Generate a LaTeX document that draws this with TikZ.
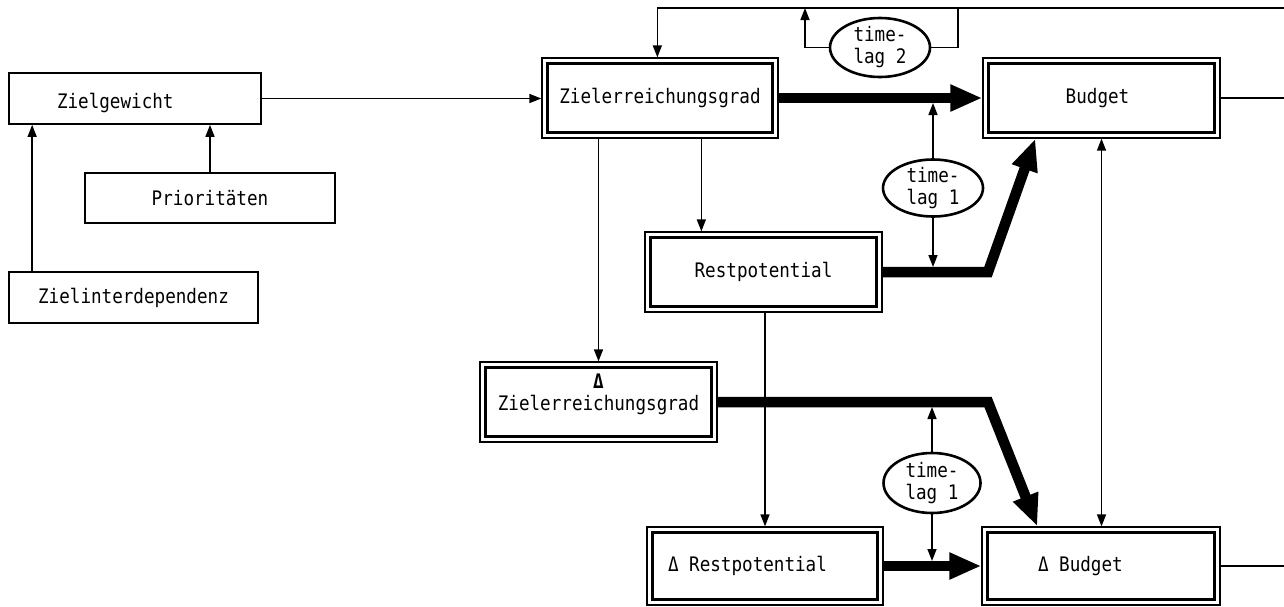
\documentclass[tikz,border=0pt]{standalone}
\usepackage{fontspec}
\newfontfamily\diagfont[FakeStretch=0.88]{DejaVu Sans Mono}
\usetikzlibrary{arrows.meta,shapes.geometric}

\begin{document}
\begin{tikzpicture}[x=1pt,y=-1pt,
  font=\diagfont\fontsize{20}{22}\selectfont,
  sbox/.style={draw,line width=1.7pt,inner sep=0pt,minimum height=51pt},
  dbox/.style={draw,line width=1.3pt,inner sep=0pt,minimum width=237pt,minimum height=80pt},
  lag/.style={draw,ellipse,line width=2.6pt,inner sep=-2pt,minimum width=100pt,minimum height=58pt,align=center},
  thinarrow/.style={line width=1.5pt,-{Triangle[length=12pt,width=9pt]}},
  twoarrow/.style={line width=1.5pt,{Triangle[length=12pt,width=9pt]}-{Triangle[length=12pt,width=9pt]}},
  fat/.style={line width=10.5pt,-{Triangle[length=32pt,width=25pt]}},
  wire/.style={line width=1.5pt}]
\useasboundingbox (0,0) rectangle (1284,606);

% single boxes
\node[sbox,minimum width=252pt] (zg) at (135,98.5) {\makebox[252pt][l]{\hspace{48pt}\raisebox{-4pt}[\height][\depth]{Zielgewicht}}};
\node[sbox,minimum width=250pt,minimum height=50pt] (pr) at (210,198) {Prioritäten};
\node[sbox,minimum width=249pt] (zi) at (133.5,297.5) {Zielinterdependenz};

% double boxes
\node[dbox,minimum width=236pt] (zr) at (660,98) {Zielerreichungsgrad};
\node[dbox] (bu) at (1101.5,98) {\hspace{-8pt}Budget};
\node[dbox] (rp) at (763.5,272) {Restpotential};
\node[dbox] (dz) at (598.5,402) {\raisebox{7pt}[\height][\depth]{\begin{tabular}{@{}c@{}}{\bfseries Δ}\\Zielerreichungsgrad\end{tabular}}};
\node[dbox,minimum width=236pt,minimum height=78pt] (drp) at (765,566) {\makebox[236pt][l]{\hspace{21pt}Δ Restpotential}};
\node[dbox,minimum width=238pt,minimum height=78pt] (db) at (1101,566) {\makebox[238pt][l]{\hspace{56pt}Δ Budget}};
\foreach \n in {zr,bu,rp,dz,drp,db}
  \draw[line width=3.2pt] ([shift={(6,6)}]\n.north west) rectangle ([shift={(-6,-6)}]\n.south east);

% time lags
\node[lag,minimum height=59pt] (t2) at (880,47.5) {time-\\lag 2};
\node[lag,minimum height=57pt] (t1a) at (933,188) {time-\\lag 1};
\node[lag,minimum width=97pt,minimum height=60pt] (t1b) at (932,483) {time-\\lag 1};

% coordinates at free ends
\coordinate (top) at (1284,8);
\coordinate (l2a) at (958,8);
\coordinate (l2b) at (805,8);
\coordinate (eR1) at (1284,98);
\coordinate (eR2) at (1284,566);
\coordinate (k1) at (988,272);
\coordinate (k2) at (988,402);

% thin connectors
\draw[thinarrow] (zg.east) -- (zg.east -| zr.west);
\draw[thinarrow] ([xshift=24pt]zi.north west) -- ([xshift=24pt]zg.south west);
\draw[thinarrow] (pr.north) -- (pr.north |- zg.south);
\draw[thinarrow] (dz.north |- zr.south) -- (dz.north);
\draw[thinarrow] ([xshift=160pt]zr.south west) -- ([xshift=160pt]zr.south west |- rp.north);
\draw[thinarrow] (drp.north |- rp.south) -- (drp.north);
\draw[twoarrow] (bu.south) -- (bu.south |- db.north);
\draw[wire] (bu.east) -- (eR1);
\draw[wire] (db.east) -- (eR2);

% top feedback loop
\draw[thinarrow] (top) -- ([xshift=116pt]zr.north west |- top) -- ([xshift=116pt]zr.north west);
\draw[wire] (l2a) |- (t2.east);
\draw[thinarrow] (t2.west) -| (l2b);

% time lag 1 connectors
\draw[thinarrow,shorten >=5pt] (t1a.north) -- (t1a.north |- zr.east);
\draw[thinarrow,shorten >=5pt] (t1a.south) -- (t1a.south |- rp.east);
\draw[thinarrow,shorten >=5pt] (t1b.north) -- (t1b.north |- dz.east);
\draw[thinarrow,shorten >=5pt] (t1b.south) -- (t1b.south |- drp.east);

% thick flows
\draw[fat] (zr.east) -- (bu.west);
\draw[fat] (rp.east) -- (k1) -- ([xshift=53pt]bu.south west);
\draw[fat] (dz.east) -- (k2) -- ([xshift=56pt]db.north west);
\draw[fat] (drp.east) -- (db.west);
\end{tikzpicture}
\end{document}
